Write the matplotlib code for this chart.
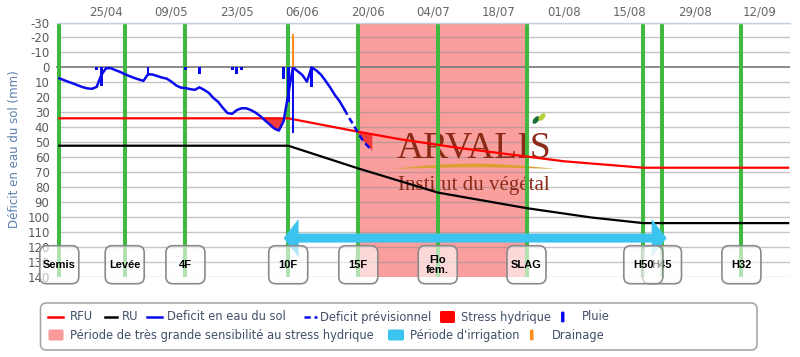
import numpy as np
import pandas as pd
import matplotlib
matplotlib.use("Agg")
import matplotlib.pyplot as plt
import matplotlib.dates as mdates
from matplotlib.patches import FancyBboxPatch, FancyArrowPatch, Polygon, Ellipse
from matplotlib.lines import Line2D
from matplotlib.transforms import Affine2D, ScaledTranslation

plt.rcParams['axes.unicode_minus'] = False
plt.rcParams['font.family'] = ['DejaVu Sans']

# ---- values (mm), year assumed 2013 ----
tick_dates = ['2013-04-25', '2013-05-09', '2013-05-23', '2013-06-06', '2013-06-20', '2013-07-04',
              '2013-07-18', '2013-08-01', '2013-08-15', '2013-08-29', '2013-09-12']

stage_names = ['Semis', 'Levée', '4F', '10F', '15F', 'Flo\nfem.', 'SLAG', 'H50', 'H45', 'H32']
stage_dates = ['2013-04-15', '2013-04-29', '2013-05-12', '2013-06-03', '2013-06-18',
               '2013-07-05', '2013-07-24', '2013-08-18', '2013-08-22', '2013-09-08']

ru_dates = ['2013-04-15', '2013-06-03', '2013-06-18', '2013-06-27', '2013-07-05',
            '2013-07-24', '2013-08-07', '2013-08-18', '2013-09-18']
ru_vals = [52.3, 52.3, 67.5, 76, 83.6, 94, 100.3, 104, 104]

rfu_dates = ['2013-04-15', '2013-06-03', '2013-06-18', '2013-06-27', '2013-07-10',
             '2013-08-01', '2013-08-18', '2013-09-18']
rfu_vals = [34, 34, 43, 48, 54, 62.7, 67, 67]

# deficit observe, un point par jour a partir du 15/04
deficit_start = '2013-04-15'
deficit_vals = [7.3, 8.5, 9.7, 10.8, 12.0, 13.2, 14.0, 14.3, 13.0, 5.0, 0.5, 0.5, 1.8, 3.0, 4.5, 5.8,
                7.0, 8.0, 9.0, 4.5, 4.8, 5.8, 6.8, 7.5, 9.5, 12.0, 13.5, 13.8, 14.5, 15.0, 13.3, 15.0,
                17.0, 20.5, 23.0, 27.0, 30.5, 31.0, 28.5, 27.3, 27.3, 28.5, 30.2, 32.5, 35.3, 38.0, 40.8,
                42.2, 36.0, 18.0, 0.0, 2.5, 5.0, 9.5, 0.0, 2.0, 4.8, 9.0, 13.5, 18.5, 22.6, 28.0]

prev_dates = ['2013-06-15', '2013-06-16', '2013-06-17', '2013-06-18', '2013-06-19', '2013-06-20', '2013-06-21']
prev_vals = [28.0, 33.5, 38.6, 44.0, 49.0, 52.5, 55.5]

rain_dates = ['2013-04-23', '2013-04-24', '2013-04-25', '2013-05-04', '2013-05-12', '2013-05-15',
              '2013-05-22', '2013-05-23', '2013-05-24', '2013-06-02', '2013-06-03', '2013-06-04', '2013-06-08']
rain_mm = [2, 12.5, 2, 5.5, 2, 4.5, 2, 4.5, 2, 8, 23, 44, 13]

drain_dates = ['2013-06-04']
drain_mm = [22]

sensible_period = ['2013-06-18', '2013-07-24']
irrigation_period = ['2013-06-02', '2013-08-23']


def d2n(d):
    return mdates.date2num(pd.to_datetime(d).values)


W, H = 800, 357
fig = plt.figure(figsize=(W / 100, H / 100), dpi=100)
ax = fig.add_axes([56.5 / W, 1 - 277 / H, (790 - 56.5) / W, (277 - 22.5) / H])
px = Affine2D().scale(1 / W, -1 / H).translate(0, 1) + fig.transFigure

base = d2n(['2013-04-25'])[0]
ax.set_xlim(base - 10.6, base + 146.4)
ax.set_ylim(140, -30)

# fond : periode sensible + grille
s0, s1 = d2n(sensible_period)
ax.axvspan(s0, s1, color='#fa9e9e', lw=0, zorder=0.2)
yt = np.arange(-30, 141, 10)
ax.hlines(yt[yt != 0], base - 10.6, base + 146.4, color='#8c8c8c', alpha=0.5, lw=1, zorder=0.4)
ax.axhline(0, color='#808080', lw=1.3, zorder=0.45)

# logo en filigrane
logo_col = '#8b2b17'
ax.text(474, 157, 'ARVALIS', transform=px, ha='center', va='baseline', fontsize=27,
        family=['Liberation Serif'], color=logo_col, zorder=0.6)
ax.text(474, 190, 'Institut du végétal', transform=px, ha='center', va='baseline', fontsize=15,
        family=['Liberation Serif'], color=logo_col, zorder=0.6)
t = np.linspace(0, 1, 60)
xs = 392 + 164 * t
yc = 169 - 3.5 * np.sin(np.pi * t)
hw = 1.8 * np.sin(np.pi * t)
ax.add_patch(Polygon(np.column_stack([np.r_[xs, xs[::-1]], np.r_[yc - hw, (yc + hw)[::-1]]]),
                     closed=True, transform=px, fc='#d9a12e', ec='none', zorder=0.6))
ax.add_patch(Ellipse((536, 120), 5, 9, angle=40, transform=px, fc='#1f6e35', ec='none', zorder=0.6))
ax.add_patch(Ellipse((542, 117), 5, 9, angle=40, transform=px, fc='#b3cf3a', ec='none', zorder=0.6))

# stades
stage_x = d2n(stage_dates)
ax.vlines(stage_x, -30, 140, color='#41b941', lw=2.9, zorder=1)

# RU / RFU
ax.plot(d2n(ru_dates), ru_vals, color='black', lw=1.6, zorder=3)
ax.plot(d2n(rfu_dates), rfu_vals, color='#ff0000', lw=1.6, zorder=3)

# deficit
obs_x = mdates.date2num(pd.date_range(deficit_start, periods=len(deficit_vals), freq='D').values)
obs_y = np.array(deficit_vals)
prev_x = d2n(prev_dates)
prev_y = np.array(prev_vals)

all_x = np.concatenate([obs_x, prev_x[1:]])
all_y = np.concatenate([obs_y, prev_y[1:]])
rfu_i = np.interp(all_x, d2n(rfu_dates), rfu_vals)
ax.fill_between(all_x, rfu_i, all_y, where=all_y > rfu_i, interpolate=True,
                color='#f23c3c', lw=0, zorder=2)

ax.plot(obs_x, obs_y, color='#0a0aee', lw=1.8, zorder=4)
ax.plot(prev_x, prev_y, color='#0a0aee', lw=1.8, ls=(0, (2.5, 1.5)), zorder=4)

# pluie et drainage
ax.bar(d2n(rain_dates), rain_mm, width=0.6, color='#0a0aee', zorder=4.5)
ax.bar(d2n(drain_dates), [-v for v in drain_mm], width=0.6, color='#ff8c1a', zorder=4.5)

# periode d'irrigation
i0, i1 = d2n(irrigation_period)
mid = (i0 + i1) / 2
for end in (i0, i1):
    ax.add_patch(FancyArrowPatch((mid, 114), (end, 114),
                                 arrowstyle='simple,head_length=10.8,head_width=27.4,tail_width=6.5',
                                 mutation_scale=1, color='#3cc4f0', lw=0,
                                 shrinkA=0, shrinkB=0, zorder=5))

# etiquettes des stades
z = 6
for name, xn in reversed(list(zip(stage_names, stage_x))):
    tr = fig.dpi_scale_trans + ScaledTranslation(xn, 131.8, ax.transData)
    ax.add_patch(FancyBboxPatch((-0.195, -0.19), 0.39, 0.38,
                                boxstyle='round,pad=0,rounding_size=0.07', transform=tr,
                                fc=(1, 1, 1, 0.6), ec='#8a8a8a', lw=1.2, clip_on=False, zorder=z))
    ax.text(xn, 131.8, name, ha='center', va='center', fontsize=8, fontweight='bold',
            family=['Liberation Sans Narrow', 'Liberation Sans'], linespacing=0.95,
            clip_on=False, zorder=z + 0.5)
    z += 1

# axes
ax.xaxis.tick_top()
ax.set_xticks(d2n(tick_dates))
ax.xaxis.set_major_formatter(mdates.DateFormatter('%d/%m'))
ax.tick_params(axis='x', length=0, pad=3, labelsize=8.5, labelcolor='#666666')
ax.set_yticks(yt)
ax.tick_params(axis='y', length=0, pad=5, labelsize=8.5, labelcolor='#5a5a5a')
for side in ['left', 'right', 'bottom']:
    ax.spines[side].set_visible(False)
ax.spines['top'].set_color('#c4d0de')
ax.spines['top'].set_linewidth(1)
fig.text(15, 149, 'Déficit en eau du sol (mm)', transform=px, rotation=90, ha='center',
         va='center', fontsize=8.5, color='#5b7fae')

# legende
fig.add_artist(FancyBboxPatch((40.5, 303), 716.5, 47, boxstyle='round,pad=0,rounding_size=6',
                              transform=px, fc='white', ec='#a8a8a8', lw=1.2))
leg_col = '#415068'
row1, row2 = 317, 335
lines = [(48, 63, '#ff0000', '-', 'RFU', 69.5),
         (105, 117, 'black', '-', 'RU', 122),
         (147, 162, '#0a0aee', '-', 'Deficit en eau du sol', 167),
         (304, 317, '#0a0aee', (0, (2.5, 1.5)), 'Deficit prévisionnel', 320)]
for xa, xb, c, ls, lab, xt in lines:
    fig.add_artist(Line2D([xa, xb], [row1, row1], transform=px, color=c, lw=1.8, ls=ls))
    fig.text(xt, row1, lab, transform=px, va='center', fontsize=8.3, color=leg_col)

boxes = [(440, row1, 15, 12, '#ff0000', 'Stress hydrique', 461),
         (561, row1, 3.5, 11, '#0a0aee', 'Pluie', 582),
         (48.5, row2, 15, 11, '#fa9a9a', 'Période de très grande sensibilité au stress hydrique', 69.5),
         (388, row2, 16, 11, '#3cc4f0', "Période d'irrigation", 409.5),
         (530, row2, 3.5, 11, '#ff8c1a', 'Drainage', 552)]
for xa, yr, bw, bh, c, lab, xt in boxes:
    fig.add_artist(FancyBboxPatch((xa, yr - bh / 2), bw, bh, boxstyle='round,pad=0,rounding_size=1.5',
                                  transform=px, fc=c, ec='none'))
    fig.text(xt, yr, lab, transform=px, va='center', fontsize=8.3, color=leg_col)

fig.savefig('out.png', dpi=100)
